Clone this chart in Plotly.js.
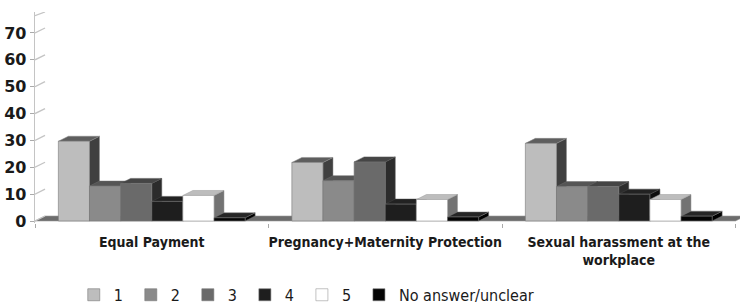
<!DOCTYPE html>
<html>
<head>
<meta charset="utf-8">
<script src="https://cdn.plot.ly/plotly-3.0.1.min.js"></script>
<style>html,body{margin:0;padding:0;background:#fff;}#chart{width:740px;height:304px;}</style>
</head>
<body>
<div id="chart"></div>
<script>
// ---- data ----
const categories = ["Equal Payment", "Pregnancy+Maternity Protection", "Sexual harassment at the<br>workplace"];
const seriesNames = ["1", "2", "3", "4", "5", "No answer/unclear"];
const s1 = [29.7, 21.8, 28.9];
const s2 = [13.0, 15.0, 12.8];
const s3 = [14.0, 22.0, 12.8];
const s4 = [7.3, 6.3, 10.0];
const s5 = [9.5, 8.0, 8.0];
const s6 = [1.2, 1.5, 1.8];
const yTicks = [0, 10, 20, 30, 40, 50, 60, 70];

// ---- styling ----
const seriesValues = [s1, s2, s3, s4, s5, s6];
const frontCol = ['#bdbdbd', '#8a8a8a', '#6a6a6a', '#1e1e1e', '#ffffff', '#050505'];
const topCol   = ['#5e5e5e', '#555555', '#454545', '#222222', '#bdbdbd', '#262626'];
const sideCol  = ['#404040', '#4a4a4a', '#2c2c2c', '#0e0e0e', '#737373', '#000000'];
const edgeCol  = ['#8a8a8a', '#6a6a6a', '#555555', '#444444', '#9a9a9a', '#777777'];

const L = 35, T = 12, W = 740, H = 304, B = 81;
const plotW = W - L, plotH = H - T - B;
const pxPerX = 233.5;
const XR = [-0.5, -0.5 + plotW / pxPerX];
const pxPerY = 2.686;
const YR = [-(223 - 221) / pxPerY, (221 - T) / pxPerY];
const DX = 10 / pxPerX, DY = 5 / pxPerY;
const bargap = 0.2, nS = seriesValues.length;
const bw = (1 - bargap) / nS;

const traces = [];

// floor
const xL = XR[0], xRt = 2.5;
traces.push({type:'scatter', xaxis:'x2', yaxis:'y2', mode:'lines', fill:'toself',
  x:[xL, xRt, xRt + DX, xL + DX, xL], y:[0, 0, DY, DY, 0],
  fillcolor:'#6c6c6c', line:{color:'#9a9a9a', width:0.6}, showlegend:false, hoverinfo:'skip'});

// left side wall lines
const wx = [], wy = [];
yTicks.forEach(v => { wx.push(xL, xL + DX, null); wy.push(v, v + DY, null); });
wx.push(xL, xL + DX, null); wy.push(YR[1] - DY * 0.75, YR[1], null);
traces.push({type:'scatter', xaxis:'x2', yaxis:'y2', mode:'lines', x:wx, y:wy,
  line:{color:'#c4c4c4', width:1.3}, showlegend:false, hoverinfo:'skip'});

// 3D top and side faces
seriesValues.forEach((vals, s) => {
  const tx = [], ty = [], sx = [], sy = [];
  vals.forEach((v, c) => {
    const x0 = c - (1 - bargap) / 2 + s * bw, x1 = x0 + bw;
    tx.push(x0, x0 + DX, x1 + DX, x1, x0, null);
    ty.push(v, v + DY, v + DY, v, v, null);
    sx.push(x1, x1 + DX, x1 + DX, x1, x1, null);
    sy.push(0, DY, v + DY, v, 0, null);
  });
  traces.push({type:'scatter', xaxis:'x2', yaxis:'y2', mode:'lines', fill:'toself', x:sx, y:sy,
    fillcolor:sideCol[s], line:{color:edgeCol[s], width:0.5}, showlegend:false, hoverinfo:'skip'});
  traces.push({type:'scatter', xaxis:'x2', yaxis:'y2', mode:'lines', fill:'toself', x:tx, y:ty,
    fillcolor:topCol[s], line:{color:edgeCol[s], width:0.5}, showlegend:false, hoverinfo:'skip'});
});

// front faces (bars)
seriesValues.forEach((vals, s) => {
  const legendLabel = s < nS - 1 ? seriesNames[s] + '\u2009' : seriesNames[s];
  traces.push({type:'bar', xaxis:'x3', yaxis:'y3', name:legendLabel, x:[0, 1, 2], y:vals,
    marker:{color:frontCol[s], line:{color: s === 4 ? '#999999' : '#777777', width:0.6}},
    hovertemplate:'%{y}<extra>' + seriesNames[s] + '</extra>'});
});

const tickFont = {family:'DejaVu Sans', size:16, color:'#1a1a1a', weight:'bold'};
const catFont = {family:'DejaVu Sans Condensed, DejaVu Sans', size:14, color:'#1a1a1a', weight:'bold'};

const layout = {
  width:W, height:H,
  margin:{l:L, r:0, t:T, b:B, pad:0, autoexpand:false},
  paper_bgcolor:'#ffffff', plot_bgcolor:'rgba(0,0,0,0)',
  barmode:'group', bargap:bargap, bargroupgap:0,
  showlegend:true,
  legend:{orientation:'h', x:0.055, xanchor:'left', y:-0.26, yanchor:'top',
    font:{family:'DejaVu Sans Condensed, DejaVu Sans', size:16, color:'#1a1a1a'},
    itemwidth:30, traceorder:'normal', bgcolor:'rgba(0,0,0,0)'},
  // back wall grid
  xaxis:{domain:[DX * pxPerX / plotW, 1], range:[0, 1], showgrid:false, zeroline:false,
    showticklabels:false, ticks:'', side:'top', showline:true, linecolor:'#c4c4c4', linewidth:1.3, fixedrange:true},
  yaxis:{domain:[0, 1], range:[YR[0] - DY, YR[1] - DY], tickvals:yTicks, showgrid:true,
    gridcolor:'#cdcdcd', gridwidth:2, zeroline:false, showticklabels:false, ticks:'',
    showline:true, linecolor:'#c4c4c4', linewidth:1.3, anchor:'x', fixedrange:true},
  // faces
  xaxis2:{domain:[0, 1], range:XR, visible:false, anchor:'y2', fixedrange:true},
  yaxis2:{domain:[0, 1], range:YR, visible:false, anchor:'x2', fixedrange:true},
  // fronts + labels
  xaxis3:{domain:[0, 1], range:XR, anchor:'y3', tickvals:[0, 1, 2], ticktext:categories,
    ticks:'', tickfont:catFont, showgrid:false, zeroline:false, showline:false, fixedrange:true,
    ticklabelstandoff:9,
    minor:{tickmode:'linear', tick0:0.5, dtick:1, ticks:'outside', ticklen:4, tickcolor:'#aaaaaa', tickwidth:1, showgrid:false}},
  yaxis3:{domain:[0, 1], range:YR, anchor:'x3', tickvals:yTicks, ticks:'outside', ticklen:4,
    tickcolor:'#aaaaaa', tickfont:tickFont, showgrid:false, zeroline:false, showline:true,
    linecolor:'#c4c4c4', linewidth:1.3, fixedrange:true}
};

Plotly.newPlot('chart', traces, layout, {displayModeBar:false, staticPlot:true});
</script>
</body>
</html>
